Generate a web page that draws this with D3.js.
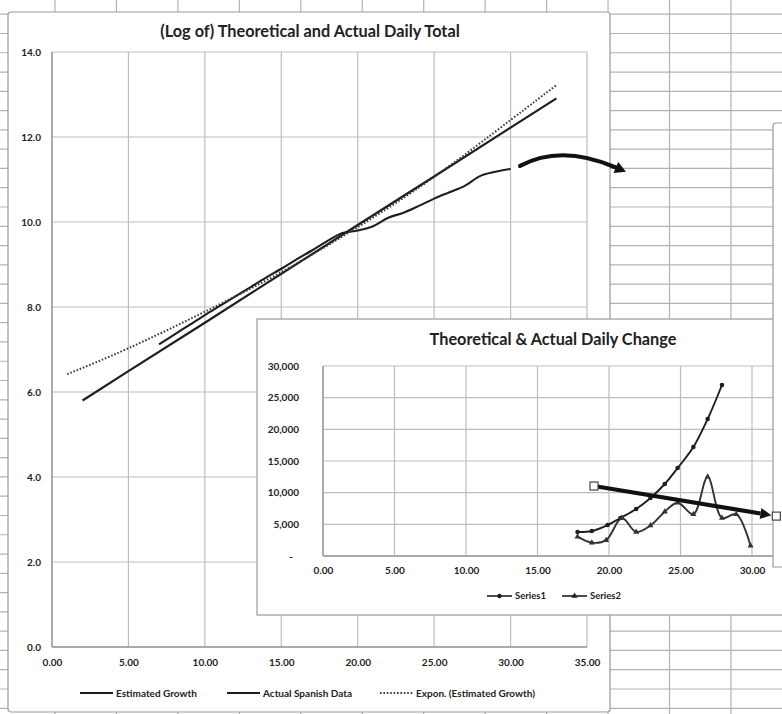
<!DOCTYPE html>
<html><head><meta charset="utf-8">
<script src="https://cdn.jsdelivr.net/npm/d3@7"></script>
<style>body{margin:0;background:#fff}svg{display:block;font-family:Lato,'Open Sans',sans-serif}</style>
</head><body><svg id="c" width="782" height="714"></svg>
<script>
// ---------- main chart data ----------
const mainTitle = "(Log of) Theoretical and Actual Daily Total";
const mainXTicks = [0, 5, 10, 15, 20, 25, 30, 35];
const mainYTicks = [0, 2, 4, 6, 8, 10, 12, 14];
const estimatedDays = [2, 5, 10, 15, 20, 25, 30, 33];
const estimatedLog = [5.80, 6.49, 7.63, 8.78, 9.93, 11.07, 12.22, 12.91];
const actualDays = [7, 8, 9, 10, 11, 12, 13, 14, 15, 16, 17, 18, 19, 20, 21, 22, 23, 24, 25, 26, 27, 28, 29, 30];
const actualLog = [7.12, 7.35, 7.58, 7.81, 8.03, 8.25, 8.47, 8.69, 8.90, 9.12, 9.33, 9.55, 9.74, 9.80, 9.90, 10.10, 10.22, 10.38, 10.55, 10.70, 10.85, 11.08, 11.18, 11.25];
const exponDays = [1, 5, 10, 15, 20, 25, 30, 33];
const exponLog = [6.42, 7.03, 7.89, 8.82, 9.88, 11.06, 12.40, 13.22];
const mainLegend = ["Estimated Growth", "Actual Spanish Data", "Expon. (Estimated Growth)"];
const mainArrow = [[30.62, 11.32], [33.3, 11.84], [37.55, 11.18]];

// ---------- inset chart data ----------
const insetTitle = "Theoretical & Actual Daily Change";
const insetXTicks = [0, 5, 10, 15, 20, 25, 30, 35];
const insetYTicks = [0, 5000, 10000, 15000, 20000, 25000, 30000];
const series1Days = [17.8, 18.8, 19.9, 20.8, 21.9, 22.9, 23.9, 24.8, 25.9, 26.9, 27.9];
const series1Vals = [3800, 3950, 4890, 6000, 7420, 9160, 11370, 13890, 17210, 21630, 27000];
const series2Days = [17.8, 18.8, 19.8, 20.9, 21.9, 22.9, 23.9, 24.8, 25.9, 26.9, 27.9, 28.9, 29.9];
const series2Vals = [3050, 2100, 2500, 6000, 3800, 4800, 7000, 8400, 6600, 12500, 6000, 6600, 1600];
const insetLegend = ["Series1", "Series2"];
const insetArrow = [[18.95, 11050], [31.7, 6300]];

const svg = d3.select("#c");
const INK = "#1e1e1e", GRID = "#bdbdbd", SHEET = "#b3b3b3", TXT = "#222";

// ---------- spreadsheet background ----------
const bg = svg.append("g");
bg.append("rect").attr("width", 782).attr("height", 714).attr("fill", "#fff");
d3.range(0, 38).forEach(k => {
  const y = 14.2 + 19.28 * k;
  bg.append("line").attr("x1", 0).attr("x2", 782).attr("y1", y).attr("y2", y).attr("stroke", SHEET).attr("stroke-width", 1.2);
});
d3.range(0, 13).forEach(k => {
  const x = 55 + 61.45 * k;
  bg.append("line").attr("x1", x).attr("x2", x).attr("y1", 0).attr("y2", 714).attr("stroke", SHEET).attr("stroke-width", 1.2);
});

// ---------- main chart ----------
const m = svg.append("g");
m.append("rect").attr("x", 8).attr("y", 12).attr("width", 602).attr("height", 700).attr("rx", 3)
  .attr("fill", "#fff").attr("stroke", "#9a9a9a").attr("stroke-width", 1.2);
const x = d3.scaleLinear().domain([0, 35]).range([52, 587]);
const y = d3.scaleLinear().domain([0, 14]).range([647, 52]);

m.selectAll(".hg").data(mainYTicks).join("line")
  .attr("x1", x(0)).attr("x2", x(35)).attr("y1", d => y(d)).attr("y2", d => y(d))
  .attr("stroke", GRID).attr("stroke-width", 1.2);
m.selectAll(".vg").data(mainXTicks).join("line")
  .attr("y1", y(0)).attr("y2", y(14)).attr("x1", d => x(d)).attr("x2", d => x(d))
  .attr("stroke", GRID).attr("stroke-width", 1.2);
m.append("line").attr("x1", x(0)).attr("x2", x(35)).attr("y1", y(0)).attr("y2", y(0)).attr("stroke", "#999").attr("stroke-width", 1.4);
m.append("line").attr("x1", x(0)).attr("x2", x(0)).attr("y1", y(0)).attr("y2", y(14)).attr("stroke", "#999").attr("stroke-width", 1.4);

const yAx = m.append("g").attr("transform", `translate(${x(0)},0)`)
  .call(d3.axisLeft(y).tickValues(mainYTicks).tickFormat(d3.format(".1f")).tickSize(0).tickPadding(11));
const xAx = m.append("g").attr("transform", `translate(0,${y(0)})`)
  .call(d3.axisBottom(x).tickValues(mainXTicks).tickFormat(d3.format(".2f")).tickSize(0).tickPadding(12));
[yAx, xAx].forEach(a => {
  a.select(".domain").remove();
  a.selectAll("text").attr("font-size", 10).attr("fill", TXT).attr("font-family", "Lato, sans-serif").attr("font-weight", 700);
});

m.append("text").attr("x", 310).attr("y", 37).attr("text-anchor", "middle")
  .attr("font-size", 16.3).attr("font-weight", 700).attr("fill", TXT).text(mainTitle);

const lineM = d3.line().x(d => x(d[0])).y(d => y(d[1]));
m.append("path").attr("d", lineM(d3.zip(estimatedDays, estimatedLog)))
  .attr("fill", "none").attr("stroke", INK).attr("stroke-width", 2.2);
m.append("path").attr("d", lineM.curve(d3.curveCatmullRom)(d3.zip(actualDays, actualLog)))
  .attr("fill", "none").attr("stroke", INK).attr("stroke-width", 2.1);
m.append("path").attr("d", lineM.curve(d3.curveNatural)(d3.zip(exponDays, exponLog)))
  .attr("fill", "none").attr("stroke", "#3a3a3a").attr("stroke-width", 2).attr("stroke-dasharray", "1.6,1.8");

// legend
const legY = 693;
const legX = [80, 227, 380];
mainLegend.forEach((t, i) => {
  m.append("line").attr("x1", legX[i]).attr("x2", legX[i] + 33).attr("y1", legY).attr("y2", legY)
    .attr("stroke", i === 2 ? "#3a3a3a" : INK).attr("stroke-width", 2)
    .attr("stroke-dasharray", i === 2 ? "1.6,1.8" : null);
  m.append("text").attr("x", legX[i] + 36).attr("y", legY).attr("dy", "0.35em")
    .attr("font-size", 10).attr("fill", TXT).attr("font-weight", 700).text(t);
});

// curved arrow annotation
const ap = mainArrow.map(p => [x(p[0]), y(p[1])]);
const ang = Math.atan2(ap[2][1] - ap[1][1], ap[2][0] - ap[1][0]);
const back = [ap[2][0] - 11 * Math.cos(ang), ap[2][1] - 11 * Math.sin(ang)];
m.append("path").attr("d", `M${ap[0][0]},${ap[0][1]} Q${ap[1][0]},${ap[1][1]} ${back[0]},${back[1]}`)
  .attr("fill", "none").attr("stroke", "#111").attr("stroke-width", 4.2).attr("stroke-linecap", "round");
const hw = 6;
m.append("path").attr("d", `M${ap[2][0]},${ap[2][1]} L${back[0] - hw * Math.sin(ang)},${back[1] + hw * Math.cos(ang)} L${back[0] + hw * Math.sin(ang)},${back[1] - hw * Math.cos(ang)} Z`)
  .attr("fill", "#111");

// ---------- inset chart ----------
const g = svg.append("g");
g.append("rect").attr("x", 257).attr("y", 319).attr("width", 600).attr("height", 296)
  .attr("fill", "#fff").attr("stroke", "#9a9a9a").attr("stroke-width", 1.2);
const ix = d3.scaleLinear().domain([0, 35]).range([323, 823.5]);
const iy = d3.scaleLinear().domain([0, 30000]).range([556, 366]);
svg.append("defs").append("clipPath").attr("id", "ic").append("rect")
  .attr("x", 300).attr("y", 300).attr("width", 473).attr("height", 300);
const gp = g.append("g").attr("clip-path", "url(#ic)");
gp.selectAll(".hg").data(insetYTicks).join("line")
  .attr("x1", ix(0)).attr("x2", ix(35)).attr("y1", d => iy(d)).attr("y2", d => iy(d))
  .attr("stroke", GRID).attr("stroke-width", 1.2);
gp.selectAll(".vg").data(insetXTicks).join("line")
  .attr("y1", iy(0)).attr("y2", iy(30000)).attr("x1", d => ix(d)).attr("x2", d => ix(d))
  .attr("stroke", GRID).attr("stroke-width", 1.2);
gp.append("line").attr("x1", ix(0)).attr("x2", ix(35)).attr("y1", iy(0)).attr("y2", iy(0)).attr("stroke", "#999").attr("stroke-width", 1.4);
gp.append("line").attr("x1", ix(0)).attr("x2", ix(0)).attr("y1", iy(0)).attr("y2", iy(30000)).attr("stroke", "#999").attr("stroke-width", 1.4);

const iyAx = g.append("g").attr("transform", `translate(${ix(0)},0)`)
  .call(d3.axisLeft(iy).tickValues(insetYTicks).tickFormat(d => d === 0 ? "-" : d3.format(",")(d)).tickSize(0).tickPadding(24));
const ixAx = g.append("g").attr("transform", `translate(0,${iy(0)})`)
  .call(d3.axisBottom(ix).tickValues(insetXTicks.filter(d => d <= 30)).tickFormat(d3.format(".2f")).tickSize(0).tickPadding(11));
[iyAx, ixAx].forEach(a => {
  a.select(".domain").remove();
  a.selectAll("text").attr("font-size", 10).attr("fill", TXT).attr("font-family", "Lato, sans-serif").attr("font-weight", 700);
});
iyAx.selectAll(".tick").filter(d => d === 0).select("text").attr("dx", -6);

g.append("text").attr("x", 553).attr("y", 345).attr("text-anchor", "middle")
  .attr("font-size", 16.3).attr("font-weight", 700).attr("fill", TXT).text(insetTitle);

const lineI = d3.line().x(d => ix(d[0])).y(d => iy(d[1])).curve(d3.curveCatmullRom);
gp.append("path").attr("d", lineI(d3.zip(series1Days, series1Vals)))
  .attr("fill", "none").attr("stroke", INK).attr("stroke-width", 1.9);
gp.append("path").attr("d", lineI(d3.zip(series2Days, series2Vals)))
  .attr("fill", "none").attr("stroke", "#333").attr("stroke-width", 1.9);
gp.selectAll(".m1").data(d3.zip(series1Days, series1Vals)).join("circle")
  .attr("cx", d => ix(d[0])).attr("cy", d => iy(d[1])).attr("r", 2.3).attr("fill", INK);
gp.selectAll(".m2").data(d3.zip(series2Days, series2Vals)).join("path")
  .attr("transform", d => `translate(${ix(d[0])},${iy(d[1])})`)
  .attr("d", d3.symbol(d3.symbolTriangle, 16)).attr("fill", "#333");

// inset legend
const ilY = 596, ilX = [487, 562];
insetLegend.forEach((t, i) => {
  g.append("line").attr("x1", ilX[i]).attr("x2", ilX[i] + 25).attr("y1", ilY).attr("y2", ilY)
    .attr("stroke", INK).attr("stroke-width", 1.6);
  if (i === 0) g.append("circle").attr("cx", ilX[i] + 12.5).attr("cy", ilY).attr("r", 2.2).attr("fill", INK);
  else g.append("path").attr("transform", `translate(${ilX[i] + 12.5},${ilY})`).attr("d", d3.symbol(d3.symbolTriangle, 16)).attr("fill", INK);
  g.append("text").attr("x", ilX[i] + 28).attr("y", ilY).attr("dy", "0.35em")
    .attr("font-size", 9.5).attr("fill", TXT).attr("font-weight", 700).text(t);
});

// ---------- third chart frame (partially visible at right) ----------
svg.append("path").attr("d", "M790,123 L776,123 Q773,123 773,126 L773,567 L790,567 Z")
  .attr("fill", "#fff").attr("stroke", "#9a9a9a").attr("stroke-width", 1.2);

// ---------- inset arrow annotation ----------
const a0 = [ix(insetArrow[0][0]), iy(insetArrow[0][1])];
const a1 = [ix(insetArrow[1][0]), iy(insetArrow[1][1])];
const an = Math.atan2(a1[1] - a0[1], a1[0] - a0[0]);
const tip = [a1[0] - 5 * Math.cos(an), a1[1] - 5 * Math.sin(an)];
const bb = [tip[0] - 11 * Math.cos(an), tip[1] - 11 * Math.sin(an)];
svg.append("line").attr("x1", a0[0]).attr("y1", a0[1]).attr("x2", bb[0]).attr("y2", bb[1])
  .attr("stroke", "#111").attr("stroke-width", 4.2);
svg.append("path").attr("d", `M${tip[0]},${tip[1]} L${bb[0] - 5.5 * Math.sin(an)},${bb[1] + 5.5 * Math.cos(an)} L${bb[0] + 5.5 * Math.sin(an)},${bb[1] - 5.5 * Math.cos(an)} Z`)
  .attr("fill", "#111");
[a0, a1].forEach(p => {
  svg.append("rect").attr("x", p[0] - 4).attr("y", p[1] - 4).attr("width", 8).attr("height", 8)
    .attr("fill", "#fff").attr("stroke", "#444").attr("stroke-width", 1.2);
});
</script></body></html>
